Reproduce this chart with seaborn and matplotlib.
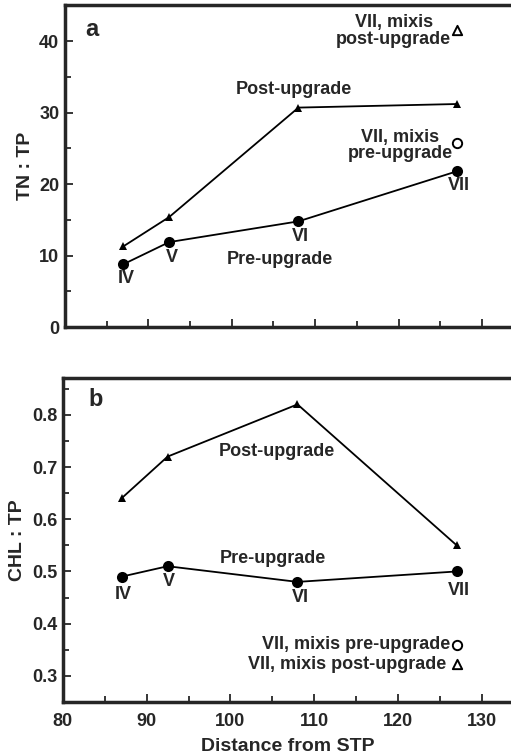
import numpy as np
import pandas as pd
import matplotlib
matplotlib.use("Agg")
import matplotlib.pyplot as plt
from matplotlib.ticker import MultipleLocator
import seaborn as sns

# station positions (distance from STP) and labels
distance = [87, 92.5, 108, 127]
stations = ["IV", "V", "VI", "VII"]

# TN : TP
tn_pre = [8.8, 11.9, 14.8, 21.8]
tn_post = [11.3, 15.4, 30.7, 31.2]
tn_mixis_pre = 25.7
tn_mixis_post = 41.5

# CHL : TP
chl_pre = [0.49, 0.51, 0.48, 0.50]
chl_post = [0.64, 0.72, 0.82, 0.55]
chl_mixis_pre = 0.36
chl_mixis_post = 0.322
mixis_x = 127

sns.set_style("ticks")
plt.rcParams["font.family"] = ["Liberation Sans", "DejaVu Sans"]
plt.rcParams["font.weight"] = "bold"

fig = plt.figure(figsize=(5.11, 7.54), dpi=100)
ax_a = fig.add_axes([0.127, 0.566, 0.875, 0.427])
ax_b = fig.add_axes([0.123, 0.069, 0.879, 0.430])


def draw(ax, pre, post, mixis_pre, mixis_post):
    df = pd.DataFrame({"x": distance * 2,
                       "y": pre + post,
                       "period": ["pre"] * 4 + ["post"] * 4})
    sns.lineplot(data=df[df.period == "pre"], x="x", y="y", ax=ax, color="black",
                 lw=1.3, marker="o", markersize=8, markeredgewidth=0)
    sns.lineplot(data=df[df.period == "post"], x="x", y="y", ax=ax, color="black",
                 lw=1.3, marker="^", markersize=6, markeredgewidth=0)
    sns.scatterplot(x=[mixis_x], y=[mixis_pre], ax=ax, marker="o", s=45,
                    facecolor="white", edgecolor="black", linewidth=1.4)
    sns.scatterplot(x=[mixis_x], y=[mixis_post], ax=ax, marker="^", s=45,
                    facecolor="white", edgecolor="black", linewidth=1.4)
    ax.set_xlim(80, 133.6)
    ax.xaxis.set_major_locator(MultipleLocator(10))
    ax.xaxis.set_minor_locator(MultipleLocator(5))
    for s in ["left", "bottom", "top"]:
        ax.spines[s].set_linewidth(2.5)
    ax.spines["right"].set_visible(False)
    ax.tick_params(which="both", direction="in", width=1.3, labelsize=13, pad=4)
    ax.tick_params(axis="x", pad=8)
    ax.tick_params(which="major", length=6)
    ax.tick_params(which="minor", length=4)
    for lab in ax.get_xticklabels() + ax.get_yticklabels():
        lab.set_fontweight("bold")


fs = 13

# panel a
draw(ax_a, tn_pre, tn_post, tn_mixis_pre, tn_mixis_post)
ax_a.set_ylim(0, 45)
ax_a.yaxis.set_major_locator(MultipleLocator(10))
ax_a.yaxis.set_minor_locator(MultipleLocator(5))
ax_a.set_yticks([0, 10, 20, 30, 40])
ax_a.tick_params(axis="x", labelbottom=False)
ax_a.set_xlabel("")
ax_a.set_ylabel("TN : TP", fontsize=14, fontweight="bold", labelpad=4)
ax_a.text(82.4, 41.6, "a", fontsize=17, fontweight="bold", va="center")
ax_a.text(119.4, 41.4, "VII, mixis\npost-upgrade", fontsize=fs, fontweight="bold",
          ha="center", va="center", multialignment="center", linespacing=0.95)
ax_a.text(120.2, 25.4, "VII, mixis\npre-upgrade", fontsize=fs, fontweight="bold",
          ha="center", va="center", multialignment="center", linespacing=0.95)
ax_a.text(107.5, 33.2, "Post-upgrade", fontsize=fs, fontweight="bold", ha="center", va="center")
ax_a.text(105.8, 9.5, "Pre-upgrade", fontsize=fs, fontweight="bold", ha="center", va="center")
for x, y, lab in zip([87.3, 92.8, 108.2, 127.2], [6.8, 9.7, 12.7, 19.8], stations):
    ax_a.text(x, y, lab, fontsize=fs, fontweight="bold", ha="center", va="center")

# panel b
draw(ax_b, chl_pre, chl_post, chl_mixis_pre, chl_mixis_post)
ax_b.set_ylim(0.25, 0.871)
ax_b.yaxis.set_major_locator(MultipleLocator(0.1))
ax_b.yaxis.set_minor_locator(MultipleLocator(0.05))
ax_b.set_xticks([80, 90, 100, 110, 120, 130])
ax_b.set_xticklabels(["80", "90", "100", "110", "120", "130"], fontweight="bold")
ax_b.set_xlabel("Distance from STP", fontsize=14, fontweight="bold", labelpad=6)
ax_b.set_ylabel("CHL : TP", fontsize=14, fontweight="bold", labelpad=4)
ax_b.text(83.0, 0.829, "b", fontsize=17, fontweight="bold", va="center")
ax_b.text(105.5, 0.73, "Post-upgrade", fontsize=fs, fontweight="bold", ha="center", va="center")
ax_b.text(105.1, 0.524, "Pre-upgrade", fontsize=fs, fontweight="bold", ha="center", va="center")
ax_b.text(126.2, 0.36, "VII, mixis pre-upgrade", fontsize=fs, fontweight="bold", ha="right", va="center")
ax_b.text(125.8, 0.322, "VII, mixis post-upgrade", fontsize=fs, fontweight="bold", ha="right", va="center")
for x, y, lab in zip([87.2, 92.7, 108.3, 127.3], [0.456, 0.481, 0.45, 0.464], stations):
    ax_b.text(x, y, lab, fontsize=fs, fontweight="bold", ha="center", va="center")

fig.savefig("out.png", dpi=100)
